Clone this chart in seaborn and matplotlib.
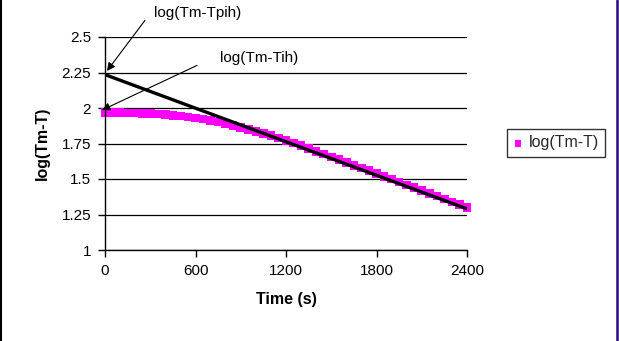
import matplotlib
matplotlib.use("Agg")
import matplotlib.pyplot as plt
import seaborn as sns
from matplotlib.lines import Line2D

# ---- data ----
time_s = [0, 50, 100, 150, 200, 250, 300, 350, 400, 450, 500, 550, 600, 650,
          700, 750, 800, 850, 900, 950, 1000, 1050, 1100, 1150, 1200, 1250,
          1300, 1350, 1400, 1450, 1500, 1550, 1600, 1650, 1700, 1750, 1800,
          1850, 1900, 1950, 2000, 2050, 2100, 2150, 2200, 2250, 2300, 2350, 2400]
log_tm_t = [1.968, 1.968, 1.967, 1.966, 1.965, 1.963, 1.961, 1.958, 1.954,
            1.949, 1.944, 1.937, 1.930, 1.921, 1.911, 1.900, 1.888, 1.875,
            1.862, 1.848, 1.834, 1.820, 1.805, 1.789, 1.773, 1.754, 1.735,
            1.715, 1.695, 1.676, 1.656, 1.636, 1.617, 1.597, 1.577, 1.558,
            1.538, 1.518, 1.499, 1.479, 1.459, 1.439, 1.419, 1.399, 1.379,
            1.359, 1.339, 1.320, 1.300]
fit_time = [0, 2400]
fit_log = [2.235, 1.29]

x_ticks = [0, 600, 1200, 1800, 2400]
x_tick_labels = ["0", "600", "1200", "1800", "2400"]
y_ticks = [1, 1.25, 1.5, 1.75, 2, 2.25, 2.5]
y_tick_labels = ["1", "1.25", "1.5", "1.75", "2", "2.25", "2.5"]

series_label = "log(Tm-T)"
ann_pih = "log(Tm-Tpih)"
ann_ih = "log(Tm-Tih)"

# ---- style ----
sns.set_theme(style="white")
plt.rcParams["font.family"] = ["Liberation Sans", "DejaVu Sans"]

W, H = 619, 341
fig = plt.figure(figsize=(W / 100, H / 100), dpi=100)
fig.patch.set_facecolor("white")
ax = fig.add_axes([105 / W, 91 / H, 362 / W, 213 / H])

sns.scatterplot(x=time_s, y=log_tm_t, marker="s", s=38, color="#FF00FF",
                edgecolor="none", linewidth=0, label=series_label, ax=ax,
                zorder=2, clip_on=False)
sns.lineplot(x=fit_time, y=fit_log, color="black", linewidth=2.4, ax=ax,
             zorder=3, legend=False)

ax.set_xlim(0, 2400)
ax.set_ylim(1, 2.5)
ax.set_xticks(x_ticks)
ax.set_xticklabels(x_tick_labels)
ax.set_yticks(y_ticks)
ax.set_yticklabels(y_tick_labels)
ax.tick_params(axis="both", which="both", bottom=True, left=True,
               direction="out", length=5, width=1, color="black",
               labelsize=11, labelcolor="black", pad=5)

ax.yaxis.grid(True, color="black", linewidth=0.9)
ax.xaxis.grid(False)
ax.set_axisbelow(True)
for s in ["top", "right"]:
    ax.spines[s].set_visible(False)
for s in ["left", "bottom"]:
    ax.spines[s].set_color("black")
    ax.spines[s].set_linewidth(1)

ax.set_xlabel("Time (s)", fontsize=11.5, fontweight="bold", color="black",
              labelpad=10)
ax.set_ylabel("log(Tm-T)", fontsize=11.5, fontweight="bold", color="black",
              labelpad=8)

# annotations
arrow_kw = dict(arrowstyle="-|>", color="black", lw=0.8, mutation_scale=12,
                shrinkA=0, shrinkB=0)
ax.annotate("", xy=(13, 2.261), xytext=(265, 2.617),
            arrowprops=arrow_kw, annotation_clip=False)
ax.annotate("", xy=(-20, 1.985), xytext=(610, 2.30),
            arrowprops=arrow_kw, annotation_clip=False)
ax.text(325, 2.667, ann_pih, fontsize=11, ha="left", va="center",
        color="black", clip_on=False)
ax.text(763, 2.35, ann_ih, fontsize=11, ha="left", va="center",
        color="black", clip_on=False)

# legend
handles, labels = ax.get_legend_handles_labels()
if ax.get_legend() is not None:
    ax.get_legend().remove()
keep = [(h, l) for h, l in zip(handles, labels) if l == series_label]
leg = fig.legend([k[0] for k in keep], [k[1] for k in keep],
                 loc="center left", bbox_to_anchor=(507 / W, (H - 143) / H),
                 frameon=True, fancybox=False, edgecolor="black",
                 fontsize=11.5, handlelength=0.6, handletextpad=0.35,
                 borderpad=0.4, borderaxespad=0, markerscale=0.75)
leg.get_frame().set_linewidth(1)

# figure borders
fig.add_artist(Line2D([1 / W, 1 / W], [0, 1], transform=fig.transFigure,
                      color="black", lw=1.5))
fig.add_artist(Line2D([617 / W, 617 / W], [0, 1], transform=fig.transFigure,
                      color="#2B0A78", lw=1.8))

fig.savefig("out.png", dpi=100, facecolor="white")
